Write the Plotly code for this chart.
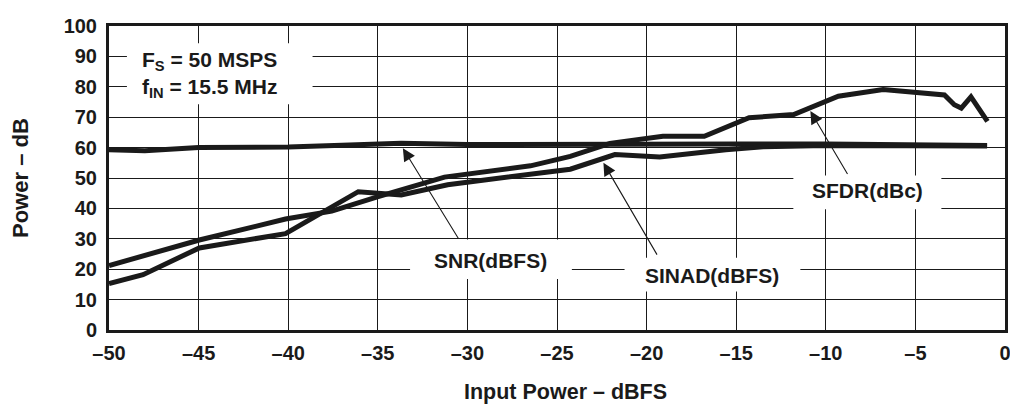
import plotly.graph_objects as go

# ---- data ----
snr_x = [-50, -48, -45, -40, -37, -33.7, -30, -25, -20, -15, -10, -5, -1]
snr_y = [59.3, 59.0, 60.0, 60.2, 60.8, 61.4, 61.0, 61.2, 61.1, 61.2, 61.2, 61.0, 60.7]

sinad_x = [-50, -48.1, -44.96, -40.15, -36.09, -33.69, -31.1, -24.26, -21.77, -19.27,
           -15.58, -13.5, -10, -5, -1]
sinad_y = [15.3, 18.2, 27.0, 31.7, 45.5, 44.4, 47.8, 52.9, 57.7, 56.9,
           59.3, 60.3, 60.7, 60.6, 60.5]

sfdr_x = [-50, -44.96, -40.15, -37.57, -34.98, -33.5, -31.28, -26.48, -24.26, -22.05,
          -20.2, -19.09, -16.78, -14.28, -11.79, -9.3, -6.8, -3.38, -2.83, -2.44,
          -1.9, -0.98]
sfdr_y = [21.2, 29.6, 36.5, 39.1, 43.9, 46.6, 50.3, 54.0, 57.1, 61.4,
          63.0, 63.7, 63.7, 69.8, 70.9, 76.9, 79.1, 77.3, 74.1, 73.0,
          76.7, 68.6]

x_ticks = [-50, -45, -40, -35, -30, -25, -20, -15, -10, -5, 0]
x_ticktext = ["–50", "–45", "–40", "–35", "–30", "–25", "–20", "–15", "–10", "–5", "0"]
y_ticks = [0, 10, 20, 30, 40, 50, 60, 70, 80, 90, 100]

FONT = "Liberation Sans, Arial, sans-serif"
INK = "#1a1a1a"

fig = go.Figure()
line_style = dict(color=INK, width=5)
for xs, ys, name in [(snr_x, snr_y, "SNR"), (sinad_x, sinad_y, "SINAD"), (sfdr_x, sfdr_y, "SFDR")]:
    fig.add_trace(go.Scatter(x=xs, y=ys, mode="lines", line=line_style, name=name,
                             showlegend=False))

# white boxes that interrupt the grid
shapes = []
for x0, x1, y0, y1 in [(-49.0, -38.64, 74.3, 94.3),
                       (-33.2, -24.17, 16.8, 29.8),
                       (-21.23, -11.42, 12.7, 23.8),
                       (-11.81, -3.55, 39.7, 50.8)]:
    shapes.append(dict(type="rect", xref="x", yref="y", x0=x0, x1=x1, y0=y0, y1=y1,
                       fillcolor="white", line=dict(width=0), layer="above"))

annotations = []
def label(x, y, text, xanchor="center", size=21):
    annotations.append(dict(x=x, y=y, xref="x", yref="y", text=text, showarrow=False,
                            xanchor=xanchor, yanchor="middle",
                            font=dict(family=FONT, size=size, color=INK, weight="bold")))

label(-48.28, 88.6, "F<sub>S</sub> = 50 MSPS", xanchor="left")
label(-48.28, 79.6, "f<sub>IN</sub> = 15.5 MHz", xanchor="left")
label(-28.7, 23.0, "SNR(dBFS)")
label(-16.33, 17.9, "SINAD(dBFS)")
label(-7.68, 45.9, "SFDR(dBc)")

# arrows
for tail, head in [((-30.45, 29.6), (-33.6, 59.8)),
                   ((-19.37, 24.3), (-22.41, 55.0)),
                   ((-8.74, 50.8), (-10.86, 72.0))]:
    annotations.append(dict(x=head[0], y=head[1], ax=tail[0], ay=tail[1],
                            xref="x", yref="y", axref="x", ayref="y", text="",
                            showarrow=True, arrowhead=2, arrowsize=2.3, arrowwidth=1.1,
                            arrowcolor=INK))

# axis titles
annotations.append(dict(x=0.51, y=0, xref="paper", yref="paper", yshift=-62,
                        xanchor="center", yanchor="middle",
                        text="Input Power – dBFS", showarrow=False,
                        font=dict(family=FONT, size=21.5, color=INK, weight="bold")))
annotations.append(dict(x=0, y=0.5, xref="paper", yref="paper", xshift=-89,
                        xanchor="center", yanchor="middle",
                        text="Power – dB", showarrow=False, textangle=-90,
                        font=dict(family=FONT, size=22, color=INK, weight="bold")))

fig.update_layout(
    width=1010, height=401,
    margin=dict(l=101, r=7, t=7, b=79),
    paper_bgcolor="white", plot_bgcolor="white",
    font=dict(family=FONT, size=20, color=INK, weight="bold"),
    annotations=annotations,
    shapes=shapes,
    showlegend=False,
)
fig.update_xaxes(range=[-50, 0], tickvals=x_ticks, ticktext=x_ticktext,
                 showgrid=True, gridcolor=INK, gridwidth=1, zeroline=False,
                 showline=True, linecolor=INK, linewidth=3, mirror=True,
                 ticks="", ticklen=0, ticklabelstandoff=3, ticklabeloverflow="allow")
fig.update_yaxes(range=[0, 100], tickvals=y_ticks,
                 showgrid=True, gridcolor=INK, gridwidth=1, zeroline=False,
                 showline=True, linecolor=INK, linewidth=3, mirror=True,
                 ticks="", ticklen=0, ticklabelstandoff=5, ticklabeloverflow="allow")

fig.write_html("out.html")
